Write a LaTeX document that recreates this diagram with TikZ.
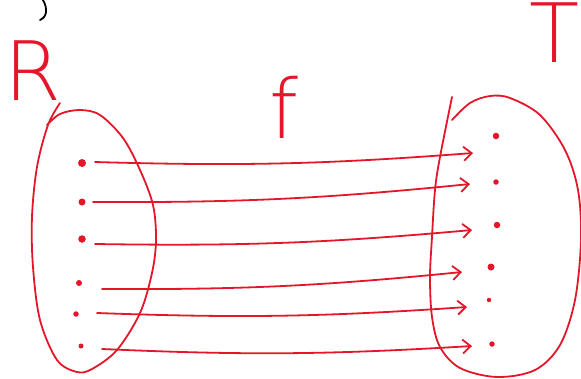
\documentclass[tikz,border=0pt]{standalone}
\usepackage{fontspec}
\newfontfamily\penfont{DejaVu Sans ExtraLight}
\usetikzlibrary{arrows.meta}
\definecolor{penred}{RGB}{228,22,42}
\tikzset{
  setline/.style ={draw=penred, line width=1.8pt, line cap=round, line join=round},
  mapline/.style ={-{Straight Barb[length=8pt,width=14pt]}, draw=penred, line width=1.8pt, line cap=round},
  elemdot/.style ={circle, fill=penred, inner sep=0pt},
  penlabel/.style ={text=penred, font=\penfont\fontsize{82}{82}\selectfont, inner sep=0pt},
}
\begin{document}
\begin{tikzpicture}[x=1pt,y=-1pt]
\useasboundingbox (0,0) rectangle (581,378);
\node[penlabel, anchor=base] (setR) at (33,100) {R};
\node[penlabel, anchor=base] (setT) at (555,62) {T};
\node[penlabel, anchor=base] (mapf) at (284,138) {f};
\draw[black, line width=1.8pt, line cap=round] (43,0) .. controls (48,9) and (47,17) .. (40,20);
\draw[setline] plot[smooth, tension=0.55] coordinates {(60,103) (48,125) (37,167) (32,217) (33,267) (40,320) (57,360) (77,372) (92,369) (117,350) (140,313) (152,273) (156,240) (153,205) (140,170) (123,138) (100,115) (80,110) (60,114) (47,125)};
\draw[setline] plot[smooth, tension=0.55] coordinates {(452,97) (440,157) (435,190) (432,237) (430,277) (432,317) (440,347) (460,368) (497,377) (535,370) (560,345) (575,300) (581,240) (578,190) (565,150) (540,115) (510,98) (490,96) (470,103) (452,120)};
\foreach \n/\x/\y/\s in {l1/82/163/8, l2/82/202/7, l3/82/239/7.5, l4/79/283/6, l5/76/314/5.5, l6/81/346/5,
                        r1/496/136/6.5, r2/496/182/5.5, r3/497/225/6.5, r4/491/267/7, r5/489/300/4.5, r6/492/344/5.5}
  \node[elemdot, minimum size=\s pt] (\n) at (\x,\y) {};
\foreach \i/\ax/\ay/\bx/\by in {1/95/162/473/153, 2/93/202/470/184, 3/95/244/472/230,
                                4/102/289/462/272, 5/97/313/467/307, 6/102/349/472/346} {
  \coordinate (s\i) at (\ax,\ay);
  \coordinate (e\i) at (\bx,\by);
  \draw[mapline] (s\i) to[bend right=3] (e\i);
}
\end{tikzpicture}
\end{document}
